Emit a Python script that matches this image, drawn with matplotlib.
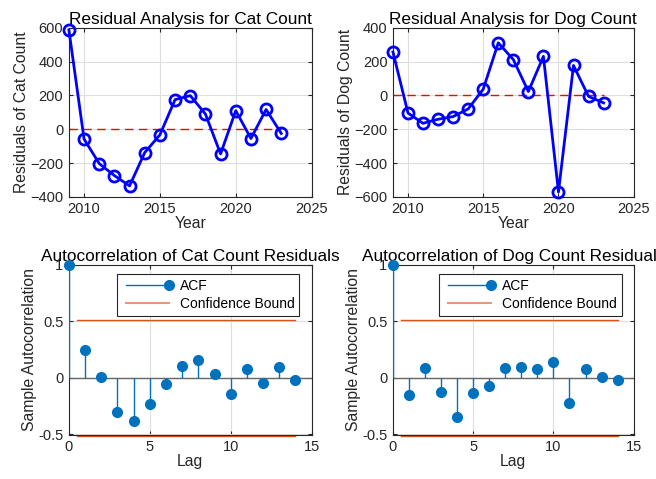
import numpy as np
import matplotlib
matplotlib.use('Agg')
import matplotlib.pyplot as plt
from matplotlib.lines import Line2D
from matplotlib.legend_handler import HandlerLine2D

plt.rcParams['font.family'] = ['Liberation Sans', 'DejaVu Sans']

years = [2009, 2010, 2011, 2012, 2013, 2014, 2015, 2016, 2017, 2018, 2019, 2020, 2021, 2022, 2023]
cat_resid = [588, -58, -203, -274, -335, -138, -33, 175, 199, 90, -146, 110, -55, 117, -25]
dog_resid = [257, -104, -165, -141, -125, -80, 37, 311, 212, 23, 231, -571, 177, -6, -44]

lags = list(range(15))
cat_acf = [1.0, 0.245, 0.005, -0.305, -0.385, -0.23, -0.055, 0.105, 0.16, 0.03, -0.145, 0.075, -0.045, 0.10, -0.02]
dog_acf = [1.0, -0.155, 0.09, -0.125, -0.35, -0.135, -0.07, 0.09, 0.10, 0.08, 0.14, -0.225, 0.08, 0.005, -0.02]
bound = 2 / np.sqrt(len(years))

axcol = (0.15, 0.15, 0.15)
blue = '#0072BD'
orange = '#D95319'


class EndMarkerHandler(HandlerLine2D):
    # MATLAB style legend: marker only at the right end of the line
    def create_artists(self, legend, orig_handle, xdescent, ydescent, width, height, fontsize, trans):
        artists = super().create_artists(legend, orig_handle, xdescent, ydescent,
                                         width, height, fontsize, trans)
        line = artists[0]
        line.set_markevery([len(line.get_xdata()) - 1])
        return artists


def style(ax):
    ax.grid(True, color=(0.87, 0.87, 0.87), linewidth=0.8)
    ax.set_axisbelow(True)
    ax.tick_params(direction='in', top=True, right=True, length=3, colors=axcol,
                   labelsize=10.5, pad=4)
    for s in ax.spines.values():
        s.set_color(axcol)
        s.set_linewidth(0.8)


fig = plt.figure(figsize=(6.56, 4.79), dpi=100)
pos = {
    'tl': [0.105, 0.589, 0.370, 0.353],
    'tr': [0.599, 0.589, 0.367, 0.353],
    'bl': [0.105, 0.092, 0.370, 0.355],
    'br': [0.599, 0.092, 0.367, 0.355],
}

# residual plots
for key, resid, name, ylim in [('tl', cat_resid, 'Cat', (-400, 600)),
                                ('tr', dog_resid, 'Dog', (-600, 400))]:
    ax = fig.add_axes(pos[key])
    ax.plot(years, resid, '-o', color='blue', linewidth=2, markersize=8,
            markerfacecolor='none', markeredgewidth=2, clip_on=False, zorder=3)
    ax.plot([years[0], years[-1]], [0, 0], color='#FF0000', linewidth=1,
            dashes=(6, 4), zorder=2)
    ax.set_xlim(2009, 2025)
    ax.set_ylim(*ylim)
    ax.set_xticks([2010, 2015, 2020, 2025])
    ax.set_yticks(np.arange(ylim[0], ylim[1] + 1, 200))
    ax.set_title('Residual Analysis for %s Count' % name, fontsize=12.4, color='black', pad=3)
    ax.set_xlabel('Year', fontsize=11.3, color=axcol, labelpad=0)
    ax.set_ylabel('Residuals of %s Count' % name, fontsize=11.3, color=axcol, labelpad=1)
    style(ax)

# autocorrelation plots
for key, acf, name in [('bl', cat_acf, 'Cat'), ('br', dog_acf, 'Dog')]:
    ax = fig.add_axes(pos[key])
    ax.vlines(lags, 0, acf, color=blue, linewidth=1, zorder=3)
    ax.plot(lags, acf, 'o', color=blue, markersize=7, clip_on=False, zorder=4)
    ax.axhline(0, color=(0.4, 0.4, 0.4), linewidth=1, zorder=2)
    ax.plot([0.5, 14], [bound, bound], color=orange, linewidth=1, clip_on=False, zorder=2)
    ax.plot([0.5, 14], [-bound, -bound], color=orange, linewidth=1, clip_on=False, zorder=2)
    ax.set_xlim(0, 15)
    ax.set_ylim(-0.505, 1)
    ax.set_xticks([0, 5, 10, 15])
    ax.set_yticks([-0.5, 0, 0.5, 1])
    ax.set_yticklabels(['-0.5', '0', '0.5', '1'])
    ax.set_title('Autocorrelation of %s Count Residuals' % name, fontsize=12.4, color='black', pad=3)
    ax.set_xlabel('Lag', fontsize=11.3, color=axcol, labelpad=0)
    ax.set_ylabel('Sample Autocorrelation', fontsize=11.3, color=axcol, labelpad=1)
    style(ax)
    acf_h = Line2D([], [], color=blue, linewidth=1, marker='o', markersize=7)
    cb_h = Line2D([], [], color=orange, linewidth=1.5, alpha=0.6)
    leg = ax.legend([acf_h, cb_h], ['ACF', 'Confidence Bound'], loc='upper right',
                    bbox_to_anchor=(0.95, 0.947), borderaxespad=0, fontsize=10,
                    fancybox=False, framealpha=1, edgecolor=axcol, handlelength=3.7,
                    handletextpad=0.5, numpoints=2, borderpad=0.35, labelspacing=0.3,
                    handler_map={acf_h: EndMarkerHandler()})
    leg.get_frame().set_linewidth(0.8)

fig.savefig('out.png', dpi=100)
